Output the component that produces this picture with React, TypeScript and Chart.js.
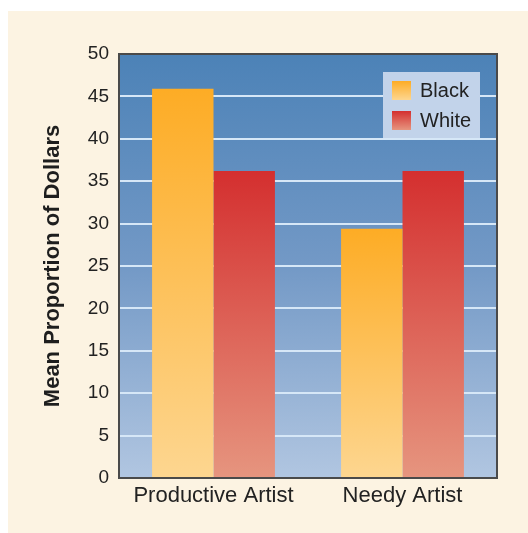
import React, { useEffect, useRef } from "react";
import { Chart, registerables } from "chart.js";

Chart.register(...registerables);

const categories = ["Productive Artist", "Needy Artist"];
const blackValues = [45.9, 29.4];
const whiteValues = [36.2, 36.2];
const seriesNames = ["Black", "White"];
const yTicks = [0, 5, 10, 15, 20, 25, 30, 35, 40, 45, 50];
const yTitle = "Mean Proportion of Dollars";

const FONT = "'Liberation Sans', Arial, Helvetica, sans-serif";

// top / bottom colours of each series' vertical gradient
const seriesGradients: [string, string][] = [
  ["#FDAC25", "#FDD690"],
  ["#D42F2F", "#E6957F"],
];

function barGradient(ctx: any, seriesIndex: number) {
  const chart = ctx.chart;
  const y = chart.scales && chart.scales.y;
  const [top, bottom] = seriesGradients[seriesIndex];
  if (!y || ctx.dataIndex === undefined || !chart.chartArea) return top;
  const v = ctx.raw as number;
  const y0 = y.getPixelForValue(0);
  const y1 = y.getPixelForValue(v);
  if (!isFinite(y0) || !isFinite(y1) || y0 === y1) return top;
  const g = chart.ctx.createLinearGradient(0, y1, 0, y0);
  g.addColorStop(0, top);
  g.addColorStop(1, bottom);
  return g;
}

// blue gradient behind the plot area
const plotBackground = {
  id: "plotBackground",
  beforeDraw(chart: any) {
    const { ctx, chartArea: a } = chart;
    if (!a) return;
    const g = ctx.createLinearGradient(0, a.top, 0, a.bottom);
    g.addColorStop(0, "#4C82B7");
    g.addColorStop(0.5, "#7399C6");
    g.addColorStop(1, "#B1C6E1");
    ctx.save();
    ctx.fillStyle = g;
    ctx.fillRect(a.left, a.top, a.right - a.left, a.bottom - a.top);
    ctx.restore();
  },
};

// plot frame and inset legend
const frameAndLegend = {
  id: "frameAndLegend",
  afterDatasetsDraw(chart: any) {
    const { ctx, chartArea: a } = chart;
    if (!a) return;
    ctx.save();
    ctx.strokeStyle = "#4A4A4A";
    ctx.lineWidth = 2;
    ctx.strokeRect(a.left, a.top, a.right - a.left, a.bottom - a.top);

    const bw = 97;
    const bh = 66;
    const bx = a.right - 17 - bw;
    const by = a.top + 18;
    ctx.fillStyle = "#C2D3EA";
    ctx.fillRect(bx, by, bw, bh);

    seriesNames.forEach((name, i) => {
      const sy = by + 9 + i * 30;
      const sx = bx + 9;
      const [top, bottom] = seriesGradients[i];
      const g = ctx.createLinearGradient(0, sy, 0, sy + 19);
      g.addColorStop(0, top);
      g.addColorStop(1, bottom);
      ctx.fillStyle = g;
      ctx.fillRect(sx, sy, 19, 19);
      ctx.fillStyle = "#222222";
      ctx.font = `20px ${FONT}`;
      ctx.textBaseline = "middle";
      ctx.textAlign = "left";
      ctx.fillText(name, sx + 28, sy + 10);
    });
    ctx.restore();
  },
};

export default function App() {
  const canvasRef = useRef<HTMLCanvasElement | null>(null);

  useEffect(() => {
    if (!canvasRef.current) return;
    const chart = new Chart(canvasRef.current, {
      type: "bar",
      data: {
        labels: categories,
        datasets: [
          {
            label: seriesNames[0],
            data: blackValues,
            backgroundColor: (ctx: any) => barGradient(ctx, 0),
            borderWidth: 0,
          },
          {
            label: seriesNames[1],
            data: whiteValues,
            backgroundColor: (ctx: any) => barGradient(ctx, 1),
            borderWidth: 0,
          },
        ],
      },
      options: {
        animation: false,
        responsive: false,
        maintainAspectRatio: false,
        layout: { padding: { left: 0, right: 31, top: 43, bottom: 0 } },
        datasets: {
          bar: { categoryPercentage: 0.65, barPercentage: 1 },
        },
        plugins: {
          legend: { display: false },
          tooltip: { enabled: false },
        },
        scales: {
          x: {
            grid: { display: false, drawTicks: false },
            border: { display: false },
            ticks: {
              color: "#222222",
              font: { family: FONT, size: 22 },
              padding: 5,
            },
            afterFit: (scale: any) => {
              scale.height = 55;
            },
          },
          y: {
            min: 0,
            max: 50,
            afterBuildTicks: (scale: any) => {
              scale.ticks = yTicks.map((v) => ({ value: v }));
            },
            grid: {
              color: "#D6E7F7",
              lineWidth: 2,
              drawTicks: false,
            },
            border: { display: false },
            ticks: {
              color: "#222222",
              font: { family: FONT, size: 19 },
              padding: 10,
            },
            title: {
              display: true,
              text: yTitle,
              color: "#1E1E1E",
              font: { family: FONT, size: 22, weight: "bold" },
              padding: { top: 32, bottom: 0 },
            },
            afterFit: (scale: any) => {
              scale.width = 111;
            },
          },
        },
      },
      plugins: [plotBackground, frameAndLegend],
    });
    return () => chart.destroy();
  }, []);

  return (
    <div
      style={{
        position: "absolute",
        left: 8,
        top: 11,
        width: 520,
        height: 522,
        background: "#FCF3E2",
      }}
    >
      <canvas ref={canvasRef} width={520} height={522} />
    </div>
  );
}
